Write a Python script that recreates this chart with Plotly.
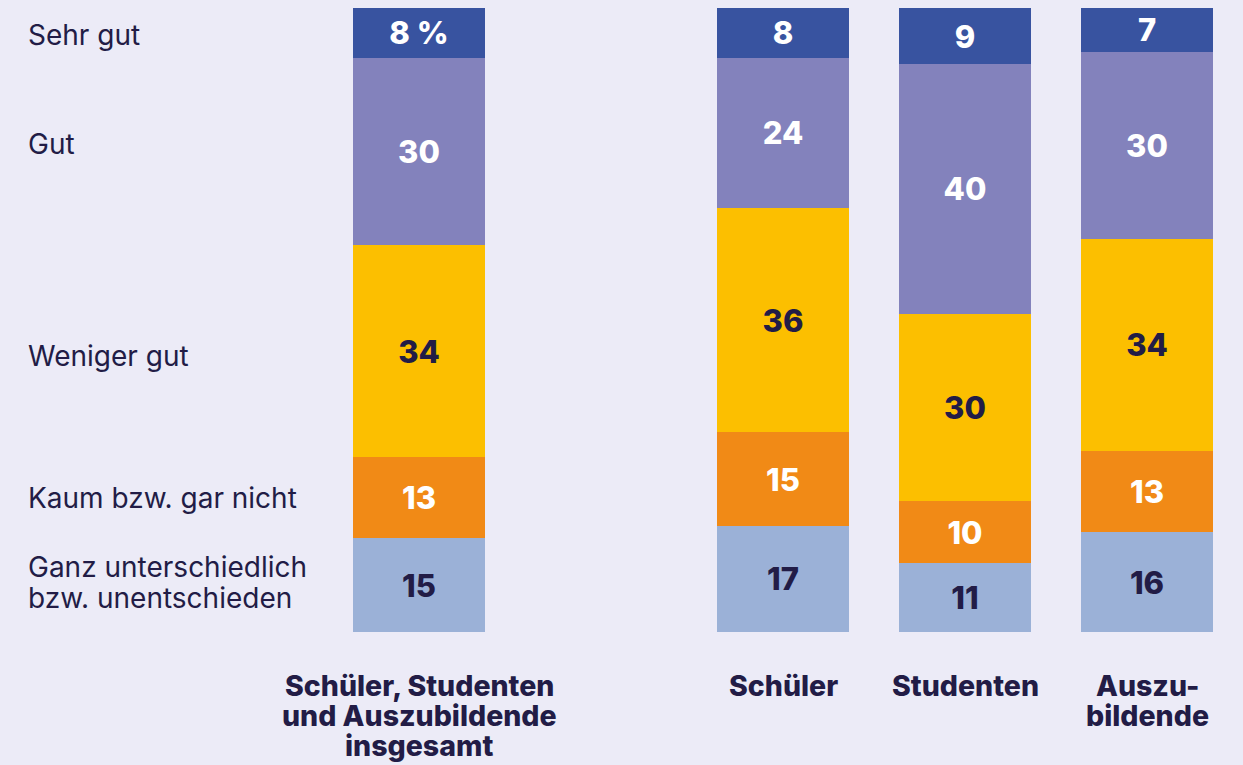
import plotly.graph_objects as go

categories = ["Schüler, Studenten<br>und Auszubildende<br>insgesamt", "Schüler", "Studenten", "Auszu-<br>bildende"]
cat_pos = [0, 2, 3, 4]

# segments from bottom to top
series_names = ["Ganz unterschiedlich<br>bzw. unentschieden", "Kaum bzw. gar nicht", "Weniger gut", "Gut", "Sehr gut"]
ganz = [15, 17, 11, 16]
kaum = [13, 15, 10, 13]
weniger = [34, 36, 30, 34]
gut = [30, 24, 40, 30]
sehr = [8, 8, 9, 7]
series_values = [ganz, kaum, weniger, gut, sehr]

colors = ["#9BB1D7", "#F18A16", "#FCBF00", "#8382BC", "#3853A0"]
text_colors = ["#221C46", "#FFFFFF", "#221C46", "#FFFFFF", "#FFFFFF"]
# small vertical nudges (px) of the left-hand labels, bottom to top
label_nudge = [3, 0, -5, 8, -2]

BG = "#ECEBF7"
DARK = "#221C46"
FONT = "Inter, 'Noto Sans', sans-serif"

fig = go.Figure()
for name, vals, col, tcol in zip(series_names, series_values, colors, text_colors):
    texts = [str(v) for v in vals]
    if name == "Sehr gut":
        texts[0] = f"{vals[0]} %"
    fig.add_trace(go.Bar(
        x=cat_pos, y=vals, name=name.replace("<br>", " "),
        marker=dict(color=col, line=dict(width=0)),
        width=0.725,
        text=texts, textposition="inside", insidetextanchor="middle",
        textangle=0,
        textfont=dict(family=FONT, size=31, color=tcol, weight=800),
        hoverinfo="skip",
    ))

annotations = []
# left labels at the centres of the first bar's segments
cum = 0
for name, vals, nudge in zip(series_names, series_values, label_nudge):
    mid = cum + vals[0] / 2
    cum += vals[0]
    lines = name.split("<br>")
    n = len(lines)
    for i, line in enumerate(lines):
        offset = (i - (n - 1) / 2) * 31
        annotations.append(dict(
            x=26 / 1243, xref="paper", xanchor="left",
            y=mid, yref="y", yanchor="middle", yshift=-offset + nudge,
            text=line, showarrow=False,
            font=dict(family=FONT, size=28, color=DARK),
        ))

# category labels below bars
for pos, cat in zip(cat_pos, categories):
    for i, line in enumerate(cat.split("<br>")):
        annotations.append(dict(
            x=pos, xref="x", xanchor="center",
            y=0, yref="y", yanchor="middle", yshift=-53 - i * 30,
            text=line, showarrow=False,
            font=dict(family=FONT, size=28.5, color=DARK, weight=800),
        ))

x0 = -419 / 182
x1 = (1243 - 419) / 182

fig.update_layout(
    width=1243, height=765,
    barmode="stack",
    paper_bgcolor=BG, plot_bgcolor=BG,
    margin=dict(l=0, r=0, t=8, b=133),
    showlegend=False,
    xaxis=dict(range=[x0, x1], visible=False, fixedrange=True),
    yaxis=dict(range=[0, 100], visible=False, fixedrange=True),
    annotations=annotations,
    uniformtext=dict(minsize=31, mode="show"),
    font=dict(family=FONT, color=DARK),
)

fig.write_html(
    "out.html",
    config={"displayModeBar": False},
    post_script="document.body.style.margin='0';document.body.style.overflow='hidden';document.body.style.background='" + BG + "';",
)
